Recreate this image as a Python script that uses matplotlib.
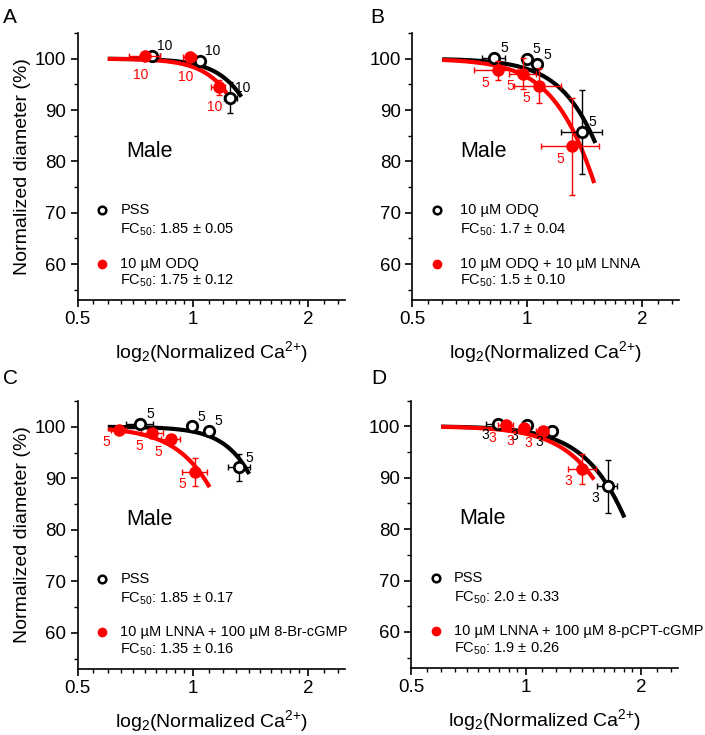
import numpy as np
import matplotlib
matplotlib.use("Agg")
import matplotlib.pyplot as plt
from matplotlib.ticker import FixedLocator, FixedFormatter, NullFormatter

plt.rcParams['font.family'] = ['Liberation Sans', 'DejaVu Sans']
plt.rcParams['mathtext.fontset'] = 'custom'
plt.rcParams['mathtext.rm'] = 'Liberation Sans'
plt.rcParams['mathtext.it'] = 'Liberation Sans:italic'
plt.rcParams['mathtext.bf'] = 'Liberation Sans:bold'

RED = '#ff0000'
BLACK = '#000000'

# ---------------- data ----------------
# Panel A
a_black_x = [0.783, 1.043, 1.254]
a_black_y = [100.5, 99.6, 92.4]
a_black_xerr = [0.04, 0.03, 0.05]
a_black_yerr = [0.4, 0.4, 3.0]
a_black_n = ['10', '10', '10']
a_red_x = [0.750, 0.982, 1.168]
a_red_y = [100.6, 100.3, 94.4]
a_red_xerr = [0.07, 0.04, 0.05]
a_red_yerr = [0.5, 0.5, 1.5]
a_red_n = ['10', '10', '10']
a_black_fit = (1.915, 7.07, 0.60, 1.34)   # K, n, x start, x end
a_red_fit = (1.758, 7.3, 0.60, 1.236)
a_black_label = ['PSS', 'FC$_{50}$: 1.85 ± 0.05']
a_red_label = ['10 µM ODQ', 'FC$_{50}$: 1.75 ± 0.12']

# Panel B
b_black_x = [0.821, 0.998, 1.063, 1.397]
b_black_y = [100.1, 100.0, 98.9, 85.7]
b_black_xerr = [0.057, 0.02, 0.03, 0.17]
b_black_yerr = [0.5, 0.5, 0.6, 8.2]
b_black_n = ['5', '5', '5', '5']
b_red_x = [0.838, 0.975, 1.075, 1.315]
b_red_y = [97.7, 97.1, 94.7, 82.9]
b_red_xerr = [0.11, 0.08, 0.15, 0.23]
b_red_yerr = [1.8, 3.0, 3.4, 9.5]
b_red_n = ['5', '5', '5', '5']
b_black_fit = (2.03, 5.5, 0.60, 1.51)
b_red_fit = (1.86, 5.3, 0.60, 1.50)
b_black_label = ['10 µM ODQ', 'FC$_{50}$: 1.7 ± 0.04']
b_red_label = ['10 µM ODQ + 10 µM LNNA', 'FC$_{50}$: 1.5 ± 0.10']

# Panel C
c_black_x = [0.729, 0.995, 1.10, 1.325]
c_black_y = [100.5, 100.1, 99.2, 92.1]
c_black_xerr = [0.058, 0.02, 0.03, 0.085]
c_black_yerr = [0.4, 0.4, 0.5, 2.7]
c_black_n = ['5', '5', '5', '5']
c_red_x = [0.64, 0.784, 0.878, 1.015]
c_red_y = [99.4, 98.7, 97.6, 91.3]
c_red_xerr = [0.03, 0.05, 0.05, 0.075]
c_red_yerr = [0.6, 0.8, 0.8, 2.7]
c_red_n = ['5', '5', '5', '5']
c_black_fit = (1.95, 7.0, 0.60, 1.405)
c_red_fit = (1.615, 5.35, 0.60, 1.107)
c_black_label = ['PSS', 'FC$_{50}$: 1.85 ± 0.17']
c_red_label = ['10 µM LNNA + 100 µM 8-Br-cGMP', 'FC$_{50}$: 1.35 ± 0.16']

# Panel D
d_black_x = [0.846, 1.004, 1.167, 1.635]
d_black_y = [100.4, 100.2, 99.1, 88.3]
d_black_xerr = [0.058, 0.02, 0.03, 0.1]
d_black_yerr = [0.4, 0.4, 0.5, 5.1]
d_black_n = ['3', '3', '3', '3']
d_red_x = [0.887, 0.99, 1.105, 1.405]
d_red_y = [100.2, 99.6, 99.1, 91.7]
d_red_xerr = [0.04, 0.03, 0.04, 0.12]
d_red_yerr = [0.4, 0.4, 0.5, 2.9]
d_red_n = ['3', '3', '3', '3']
d_black_fit = (2.46, 5.0, 0.60, 1.81)
d_red_fit = (2.32, 5.0, 0.60, 1.507)
d_black_label = ['PSS', 'FC$_{50}$: 2.0 ± 0.33']
d_red_label = ['10 µM LNNA + 100 µM 8-pCPT-cGMP', 'FC$_{50}$: 1.9 ± 0.26']

x_major_ticks = [0.5, 1, 2]
x_tick_labels = ['0.5', '1', '2']
y_major_ticks = [60, 70, 80, 90, 100]
y_tick_labels = ['60', '70', '80', '90', '100']
panel_letters = ['A', 'B', 'C', 'D']
group_text = 'Male'
x_label = 'log$_2$(Normalized Ca$^{2{+}}$)'
y_label = 'Normalized diameter (%)'

# ---------------- drawing ----------------
fig = plt.figure(figsize=(7.05, 7.35), dpi=100)

W, H = 705.0, 735.0
def rect(l, r, t, b):
    return [l / W, 1 - b / H, (r - l) / W, (b - t) / H]

axes_rects = [rect(77.5, 345, 33, 300), rect(412, 679, 33, 300),
              rect(77.5, 345, 401, 669), rect(411, 678, 400.5, 668)]

panels = [
    (a_black_x, a_black_y, a_black_xerr, a_black_yerr, a_black_n,
     a_red_x, a_red_y, a_red_xerr, a_red_yerr, a_red_n,
     a_black_fit, a_red_fit, a_black_label, a_red_label,
     (9, 7), (-3, -14)),
    (b_black_x, b_black_y, b_black_xerr, b_black_yerr, b_black_n,
     b_red_x, b_red_y, b_red_xerr, b_red_yerr, b_red_n,
     b_black_fit, b_red_fit, b_black_label, b_red_label,
     (7, 7), (-9, -9)),
    (c_black_x, c_black_y, c_black_xerr, c_black_yerr, c_black_n,
     c_red_x, c_red_y, c_red_xerr, c_red_yerr, c_red_n,
     c_black_fit, c_red_fit, c_black_label, c_red_label,
     (7, 7), (-9, -9)),
    (d_black_x, d_black_y, d_black_xerr, d_black_yerr, d_black_n,
     d_red_x, d_red_y, d_red_xerr, d_red_yerr, d_red_n,
     d_black_fit, d_red_fit, d_black_label, d_red_label,
     (-9, -8), (-10, -9)),
]

letter_pos = [(3, 8), (370, 8), (3, 369), (371, 369)]

def hill(x, K, n):
    return 100.0 / (1.0 + (x / K) ** n)

for i, (rc, p) in enumerate(zip(axes_rects, panels)):
    (bx, by, bxe, bye, bn, rx, ry, rxe, rye, rn,
     bfit, rfit, blab, rlab, boff, roff) = p
    ax = fig.add_axes(rc)
    ax.set_xscale('log')
    ax.set_xlim(0.5, 2.5)
    ax.set_ylim(53, 105)

    # fitted curves
    for fit, col in ((bfit, BLACK), (rfit, RED)):
        K, n, x0, x1 = fit
        xs = np.geomspace(x0, x1, 200)
        ax.plot(xs, hill(xs, K, n), color=col, lw=3.0, solid_capstyle='butt', zorder=2)

    # black (open) points
    ax.errorbar(bx, by, xerr=bxe, yerr=bye, fmt='none', ecolor=BLACK,
                elinewidth=1.0, capsize=2.5, capthick=1.0, zorder=3)
    ax.plot(bx, by, 'o', ms=7.5, mfc='white', mec=BLACK, mew=2.0, ls='none', zorder=4)
    # red (filled) points
    ax.errorbar(rx, ry, xerr=rxe, yerr=rye, fmt='none', ecolor=RED,
                elinewidth=1.0, capsize=2.5, capthick=1.0, zorder=5)
    ax.plot(rx, ry, 'o', ms=9, mfc=RED, mec=RED, mew=0, ls='none', zorder=6)

    for x, y, t in zip(bx, by, bn):
        ax.annotate(t, (x, y), xytext=boff, textcoords='offset points',
                    ha='center', va='center', fontsize=10, color=BLACK, zorder=7)
    for x, y, t in zip(rx, ry, rn):
        ax.annotate(t, (x, y), xytext=roff, textcoords='offset points',
                    ha='center', va='center', fontsize=10, color=RED, zorder=7)

    # "Male"
    ax.text(0.77, 82, group_text, ha='center', va='center', fontsize=15.5)

    # legend
    tr = ax.get_yaxis_transform()
    mx = 0.093
    tx = 0.18 if i == 1 else 0.16
    ax.plot([mx], [70.5], 'o', ms=5.5, mfc='white', mec=BLACK, mew=1.8,
            transform=tr, clip_on=False)
    ax.text(tx, 70.5, blab[0], transform=tr, ha='left', va='center', fontsize=10.5)
    ax.text(tx, 66.7, blab[1], transform=tr, ha='left', va='center', fontsize=10.5)
    ax.plot([mx], [60.1], 'o', ms=7, mfc=RED, mec=RED, mew=0,
            transform=tr, clip_on=False)
    ax.text(tx, 60.1, rlab[0], transform=tr, ha='left', va='center', fontsize=10.5)
    ax.text(tx, 56.7, rlab[1], transform=tr, ha='left', va='center', fontsize=10.5)

    # axes styling
    for s in ('top', 'right'):
        ax.spines[s].set_visible(False)
    for s in ('left', 'bottom'):
        ax.spines[s].set_linewidth(1.2)
    ax.xaxis.set_major_locator(FixedLocator(x_major_ticks))
    ax.xaxis.set_major_formatter(FixedFormatter(x_tick_labels))
    minors = list(np.arange(0.55, 0.99, 0.05)) + list(np.arange(1.1, 1.95, 0.1)) + [2.2, 2.4]
    ax.xaxis.set_minor_locator(FixedLocator(minors))
    ax.xaxis.set_minor_formatter(NullFormatter())
    ax.yaxis.set_major_locator(FixedLocator(y_major_ticks))
    ax.yaxis.set_major_formatter(FixedFormatter(y_tick_labels))
    ax.yaxis.set_minor_locator(FixedLocator([55, 65, 75, 85, 95, 105]))
    ax.tick_params(which='major', direction='out', length=5, width=1.2, labelsize=13.5, pad=3)
    ax.tick_params(which='minor', direction='out', length=3, width=1.0)
    ax.set_xlabel(x_label, fontsize=14, labelpad=8)
    if i in (0, 2):
        ax.set_ylabel(y_label, fontsize=14, labelpad=3)

    lx, ly = letter_pos[i]
    fig.text(lx / W, 1 - ly / H, panel_letters[i], fontsize=15, ha='left', va='top')

fig.savefig('out.png', dpi=100)
